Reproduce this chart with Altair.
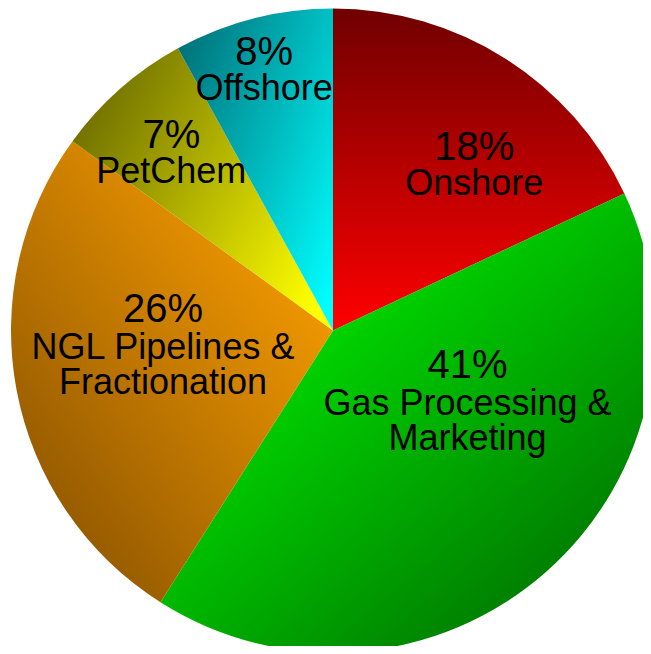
import altair as alt
import pandas as pd

# ---- data ----
categories = ["Onshore", "Gas Processing & Marketing", "NGL Pipelines & Fractionation", "PetChem", "Offshore"]
values = [18, 41, 26, 7, 8]
pct_labels = ["18%", "41%", "26%", "7%", "8%"]
name_labels = ["Onshore", "Gas Processing &\nMarketing", "NGL Pipelines &\nFractionation", "PetChem", "Offshore"]

ends = []
acc = 0
for v in values:
    acc += v
    ends.append(acc)
starts = [e - v for e, v in zip(ends, values)]
mids = [s + v / 2 for s, v in zip(starts, values)]

df = pd.DataFrame({"category": categories, "value": values, "pct": pct_labels, "name": name_labels,
                   "start": starts, "end": ends, "mid": mids})

# ---- styles ----
def lin(c0, c1, x1, y1, x2, y2):
    return {"gradient": "linear", "x1": x1, "y1": y1, "x2": x2, "y2": y2,
            "stops": [{"offset": 0, "color": c0}, {"offset": 1, "color": c1}]}

fills = [
    lin("#700000", "#ff0000", 0, 0, 0, 1),          # Onshore
    lin("#00f000", "#006000", 0.2, 0.1, 1, 1),      # Gas Processing
    lin("#fa9e00", "#855000", 0.9, 0.15, 0.1, 1),   # NGL
    lin("#6a6a00", "#ffff00", 0, 0.2, 1, 0.8),      # PetChem
    lin("#007078", "#00ffff", 0, 0.1, 1, 0.9),      # Offshore
]
# label placement: radius from centre, x nudge, baseline nudge of % line, baseline nudge of name
label_style = [
    (217, 25, 13, 48),
    (152, 34, -67, -30),
    (170, -3, -40, -3),
    (240, -3, -2, 33),
    (269, -2, -5, 30),
]

CX, CY = 325, 322.5  # pie centre inside the view
theta_scale = alt.Scale(domain=[0, 100])
arcs, texts = [], []
for i, cat in enumerate(categories):
    base = alt.Chart(df).transform_filter(alt.datum.category == cat)
    arcs.append(base.mark_arc(outerRadius=322, fill=fills[i]).encode(
        theta=alt.Theta("start:Q", scale=theta_scale),
        theta2="end:Q",
        x=alt.value(CX), y=alt.value(CY)))
    r, dx, dy_pct, dy_name = label_style[i]
    for field, size, dy in (("pct", 40, dy_pct), ("name", 36, dy_name)):
        texts.append(base.mark_text(radius=r, dx=dx, dy=dy, font="Liberation Sans", fontSize=size,
                                    lineHeight=35, lineBreak="\n", color="black",
                                    align="center", baseline="alphabetic").encode(
            theta=alt.Theta("mid:Q", scale=theta_scale, stack=False),
            text=alt.Text(f"{field}:N"),
            x=alt.value(CX), y=alt.value(CY)))

chart = alt.layer(*arcs, *texts).properties(
    width=635, height=638,
    autosize=alt.AutoSizeParams(type="none"),
    padding=0,
    background="white",
).configure_view(stroke=None)

chart.save("out.html", embed_options={"renderer": "svg", "actions": False})
